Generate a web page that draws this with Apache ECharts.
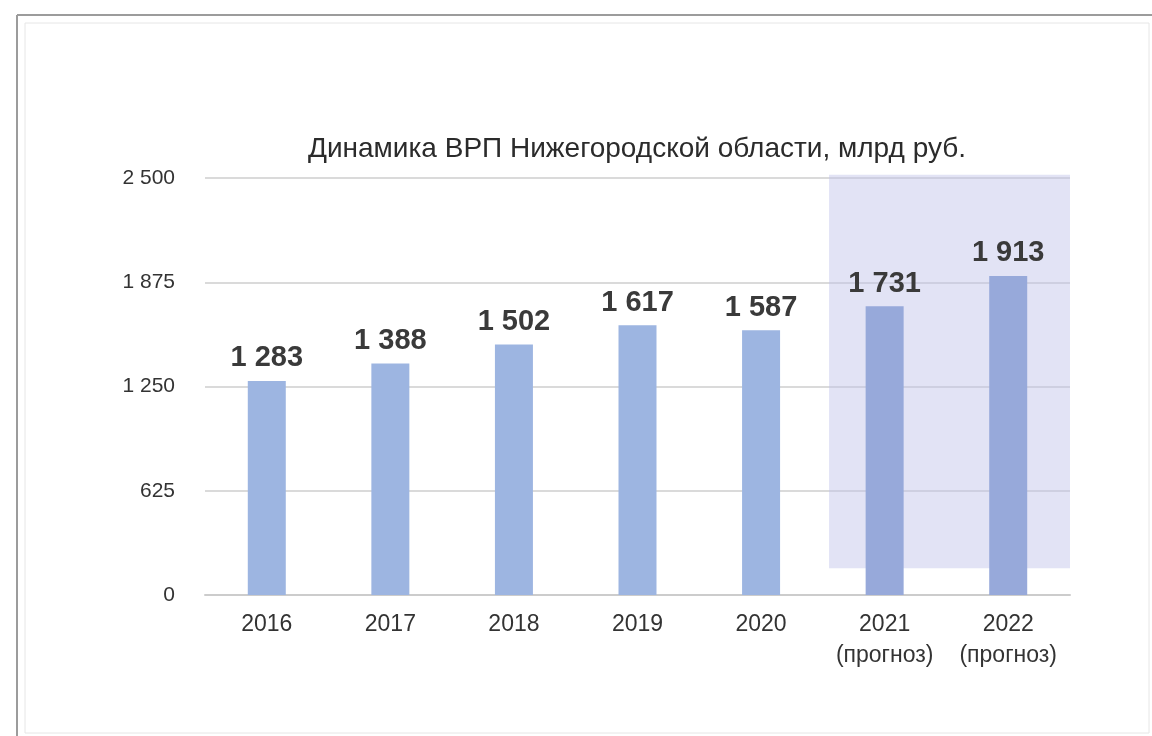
<!DOCTYPE html>
<html>
<head>
<meta charset="utf-8">
<script src="https://cdn.jsdelivr.net/npm/echarts@6/dist/echarts.min.js"></script>
<style>
  html, body { margin: 0; padding: 0; background: #ffffff; }
  #chart { width: 1152px; height: 736px; }
</style>
</head>
<body>
<div id="chart"></div>
<script>
// Gross regional product of the Nizhny Novgorod region, bn roubles
const categories = ['2016', '2017', '2018', '2019', '2020', '2021\n(прогноз)', '2022\n(прогноз)'];
const grpValues = [1283, 1388, 1502, 1617, 1587, 1731, 1913];
const forecastStart = 5; // first forecast year index
const yMin = 0;
const yMax = 2500;
const yStep = 625;
const titleText = 'Динамика ВРП Нижегородской области, млрд руб.';

const FONT = '"Liberation Sans", Arial, sans-serif';

// thousands separated by a space: 1913 -> "1 913"
function fmt(v) {
  return String(v).replace(/\B(?=(\d{3})+(?!\d))/g, ' ');
}

const chart = echarts.init(document.getElementById('chart'), null, { renderer: 'canvas' });

// page frame: darker outer edge and a light inner edge
const frame = [
  { type: 'line', shape: { x1: 17, y1: 15, x2: 1152, y2: 15 }, style: { stroke: '#9c9c9c', lineWidth: 2 }, silent: true },
  { type: 'line', shape: { x1: 17, y1: 15, x2: 17, y2: 736 }, style: { stroke: '#9c9c9c', lineWidth: 2 }, silent: true },
  { type: 'rect', shape: { x: 25, y: 23, width: 1124, height: 710 }, style: { fill: 'none', stroke: '#e6e6e6', lineWidth: 1 }, silent: true }
];

const option = {
  animation: false,
  backgroundColor: '#ffffff',
  title: {
    text: titleText,
    left: 632,
    textAlign: 'center',
    top: 130,
    textStyle: { fontFamily: FONT, fontSize: 28, fontWeight: 'normal', color: '#2b2b2b' }
  },
  grid: { left: 205, right: 82, top: 178, bottom: 141, containLabel: false },
  xAxis: {
    type: 'category',
    data: categories,
    axisTick: { show: false },
    axisLine: { show: true, lineStyle: { color: '#cccccc', width: 2 } },
    axisLabel: {
      interval: 0,
      hideOverlap: false,
      fontFamily: FONT, fontSize: 23, color: '#333333',
      margin: 14, lineHeight: 31
    }
  },
  yAxis: {
    type: 'value',
    min: yMin,
    max: yMax,
    interval: yStep,
    axisLine: { show: false },
    axisTick: { show: false },
    splitLine: { lineStyle: { color: '#dadada', width: 2 } },
    axisLabel: {
      fontFamily: FONT, fontSize: 21, color: '#333333', margin: 30,
      formatter: fmt
    }
  },
  series: [{
    type: 'bar',
    barWidth: 38,
    z: 3,
    data: grpValues.map((v, i) => ({
      value: v,
      itemStyle: { color: i >= forecastStart ? '#97a9da' : '#9db5e1' }
    })),
    label: {
      show: true,
      position: 'top',
      distance: 8,
      fontFamily: FONT,
      fontSize: 29,
      fontWeight: 'bold',
      color: '#3a3a3a',
      formatter: p => fmt(p.value)
    }
  }],
  graphic: { elements: frame }
};

chart.setOption(option);

// forecast band: lavender panel behind the forecast bars, placed from the axis scales
const p0 = chart.convertToPixel({ xAxisIndex: 0 }, forecastStart);
const p1 = chart.convertToPixel({ xAxisIndex: 0 }, categories.length - 1);
const band = chart.convertToPixel({ xAxisIndex: 0 }, 1) - chart.convertToPixel({ xAxisIndex: 0 }, 0);
const yTop = chart.convertToPixel({ yAxisIndex: 0 }, 2520);
const yBottom = chart.convertToPixel({ yAxisIndex: 0 }, 160);
const left = p0 - band * 0.45;
const right = p1 + band / 2;

chart.setOption({
  graphic: {
    elements: frame.concat([{
      type: 'rect',
      z: 1,
      silent: true,
      shape: { x: left, y: yTop, width: right - left, height: yBottom - yTop },
      style: { fill: 'rgba(190,192,232,0.45)' }
    }])
  }
});
</script>
</body>
</html>
